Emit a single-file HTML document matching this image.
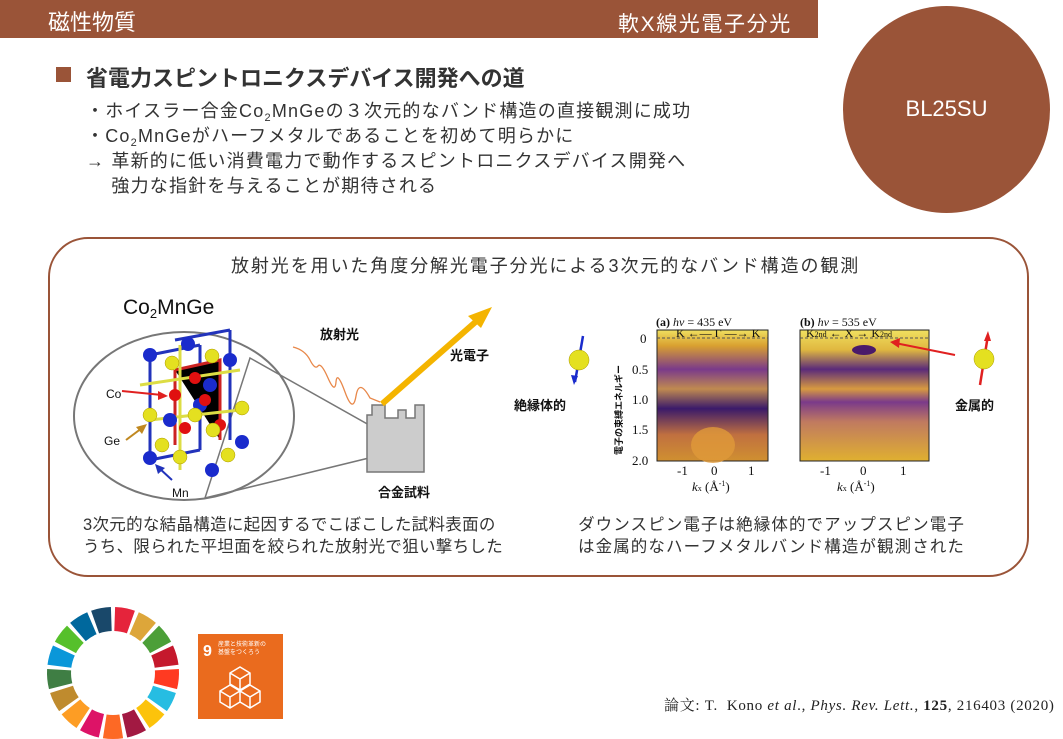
<!DOCTYPE html>
<html><head><meta charset="utf-8"><style>
body{margin:0;width:1063px;height:739px;background:#fff;position:relative;overflow:hidden;font-family:"Liberation Sans","Noto Sans CJK JP",sans-serif;color:#222}
.a{position:absolute;white-space:nowrap}
sub{font-size:11px;line-height:0;vertical-align:baseline;position:relative;top:4px}
</style></head><body>
<div class="a" style="left:0;top:0;width:818px;height:38px;background:#9a5438"></div>
<div class="a" style="left:48px;top:5px;font-size:22px;color:#fff">磁性物質</div>
<div class="a" style="left:618px;top:8px;font-size:21px;letter-spacing:1.6px;color:#fff">軟X線光電子分光</div>
<div class="a" style="left:843px;top:6px;width:207px;height:207px;border-radius:50%;background:#9a5438"></div>
<div class="a" style="left:843px;top:96px;width:207px;text-align:center;font-size:22px;color:#fff">BL25SU</div>
<div class="a" style="left:56px;top:67px;width:15px;height:15px;background:#9a5438"></div>
<div class="a" style="left:86px;top:61px;font-size:22px;font-weight:bold;color:#333">省電力スピントロニクスデバイス開発への道</div>
<div class="a" style="left:86px;top:99px;font-size:18px;letter-spacing:1.2px;line-height:25px;color:#333">・ホイスラー合金Co<sub>2</sub>MnGeの３次元的なバンド構造の直接観測に成功<br>・Co<sub>2</sub>MnGeがハーフメタルであることを初めて明らかに<br>→ 革新的に低い消費電力で動作するスピントロニクスデバイス開発へ<br>　 強力な指針を与えることが期待される</div>
<div class="a" style="left:48px;top:237px;width:977px;height:336px;border:2px solid #9a5438;border-radius:40px"></div>
<div class="a" style="left:231px;top:252px;font-size:18px;letter-spacing:1.9px;color:#333">放射光を用いた角度分解光電子分光による3次元的なバンド構造の観測</div>
<div class="a" style="left:123px;top:296px;font-size:21px;color:#111">Co<sub style="font-size:13px">2</sub>MnGe</div>
<svg class="a" style="left:0;top:0" width="1063" height="739">
<ellipse cx="184" cy="416" rx="110" ry="84" fill="none" stroke="#777" stroke-width="2"/>
<polygon points="250,358 410,448 205,498" fill="none" stroke="#777" stroke-width="1.5"/>
<polygon points="367,472 367,415 372,415 372,405 385,405 385,418 398,418 398,410 406,410 406,418 415,418 415,405 424,405 424,472" fill="#ccc" stroke="#777" stroke-width="1.5"/>
<line x1="382" y1="404" x2="480" y2="318" stroke="#f4b400" stroke-width="6"/>
<polygon points="492,307 468,316 481,328" fill="#f4b400"/>
<path d="M293,347 Q305,350 310,360 T318,366 T328,378 T336,382 T345,392 T356,396 T370,398 L380,402" fill="none" stroke="#e8884a" stroke-width="1.3"/>
<g stroke-width="3">
<path d="M150,355 L200,345 M150,460 L200,450 M150,355 L150,460 M200,345 L200,450 M175,340 L230,330 M230,330 L230,440" stroke="#2233bb"/>
<path d="M175,370 L220,360 L220,440 M175,370 L175,445" stroke="#cc2222"/>
<path d="M140,385 L240,370 M150,420 L240,410 M180,345 L180,470" stroke="#dddd44"/>
</g>
<g fill="#1a2bcc"><circle cx="150" cy="355" r="7"/><circle cx="188" cy="344" r="7"/><circle cx="230" cy="360" r="7"/><circle cx="150" cy="458" r="7"/><circle cx="212" cy="470" r="7"/><circle cx="242" cy="442" r="7"/><circle cx="200" cy="405" r="7"/><circle cx="170" cy="420" r="7"/><circle cx="210" cy="385" r="7"/></g>
<g fill="#e01010"><circle cx="175" cy="395" r="6"/><circle cx="205" cy="400" r="6"/><circle cx="185" cy="428" r="6"/><circle cx="220" cy="425" r="6"/><circle cx="195" cy="378" r="6"/></g>
<g fill="#e4e020" stroke="#aa9900" stroke-width=".5"><circle cx="172" cy="363" r="7"/><circle cx="212" cy="356" r="7"/><circle cx="150" cy="415" r="7"/><circle cx="242" cy="408" r="7"/><circle cx="180" cy="457" r="7"/><circle cx="228" cy="455" r="7"/><circle cx="213" cy="430" r="7"/><circle cx="195" cy="415" r="7"/><circle cx="162" cy="445" r="7"/></g>
<line x1="122" y1="391" x2="162" y2="395" stroke="#e02020" stroke-width="2"/><polygon points="168,396 158,391 158,400" fill="#e02020"/>
<line x1="126" y1="440" x2="142" y2="428" stroke="#c08820" stroke-width="2"/><polygon points="147,424 136,427 142,434" fill="#c08820"/>
<line x1="172" y1="480" x2="159" y2="468" stroke="#2233bb" stroke-width="2"/><polygon points="155,464 158,474 165,468" fill="#2233bb"/>
<text x="106" y="398" font-size="12" fill="#111">Co</text>
<text x="104" y="445" font-size="12" fill="#111">Ge</text>
<text x="172" y="497" font-size="12" fill="#111">Mn</text>
<text x="320" y="339" font-size="13" font-weight="bold" fill="#111">放射光</text>
<text x="450" y="360" font-size="13" font-weight="bold" fill="#111">光電子</text>
<text x="378" y="497" font-size="13" font-weight="bold" fill="#111">合金試料</text>
<defs>
<linearGradient id="ga" x1="0" y1="0" x2="0" y2="1"><stop offset="0" stop-color="#f0e060"/><stop offset=".12" stop-color="#d9a030"/><stop offset=".3" stop-color="#7a3a8a"/><stop offset=".45" stop-color="#c08a50"/><stop offset=".6" stop-color="#3a1a6a"/><stop offset=".8" stop-color="#c07040"/><stop offset="1" stop-color="#d09030"/></linearGradient>
<linearGradient id="gb" x1="0" y1="0" x2="0" y2="1"><stop offset="0" stop-color="#f0e060"/><stop offset=".15" stop-color="#e0b840"/><stop offset=".3" stop-color="#5a2a7a"/><stop offset=".45" stop-color="#d89a40"/><stop offset=".55" stop-color="#7a3a8a"/><stop offset=".7" stop-color="#c07a60"/><stop offset="1" stop-color="#e0b030"/></linearGradient>
</defs>
<rect x="657" y="330" width="111" height="131" fill="url(#ga)" stroke="#222"/>
<ellipse cx="713" cy="445" rx="22" ry="18" fill="#e09a3a" opacity=".8"/>
<rect x="800" y="330" width="129" height="131" fill="url(#gb)" stroke="#222"/>
<ellipse cx="864" cy="350" rx="12" ry="5" fill="#4a1a6a"/>
<line x1="657" y1="338" x2="768" y2="338" stroke="#555" stroke-dasharray="3,2"/>
<line x1="800" y1="338" x2="929" y2="338" stroke="#555" stroke-dasharray="3,2"/>
<g font-family="Liberation Serif,serif" font-size="13" fill="#111">
<text x="656" y="326" font-size="12"><tspan font-weight="bold">(a)</tspan> <tspan font-style="italic">hv</tspan> = 435 eV</text>
<text x="800" y="326" font-size="12"><tspan font-weight="bold">(b)</tspan> <tspan font-style="italic">hv</tspan> = 535 eV</text>
<text x="676" y="337" font-size="12">K ←— Γ —→ K</text>
<text x="806" y="337" font-size="12">K<tspan font-size="8">2nd</tspan> ← X → K<tspan font-size="8">2nd</tspan></text>
<text x="640" y="343">0</text><text x="632" y="374">0.5</text><text x="632" y="404">1.0</text><text x="632" y="434">1.5</text><text x="632" y="465">2.0</text>
<text x="677" y="475">-1</text><text x="711" y="475">0</text><text x="748" y="475">1</text>
<text x="820" y="475">-1</text><text x="860" y="475">0</text><text x="900" y="475">1</text>
<text x="692" y="491"><tspan font-style="italic">k</tspan><tspan font-size="8">x</tspan> (Å<tspan font-size="8" dy="-5">-1</tspan><tspan dy="5">)</tspan></text>
<text x="837" y="491"><tspan font-style="italic">k</tspan><tspan font-size="8">x</tspan> (Å<tspan font-size="8" dy="-5">-1</tspan><tspan dy="5">)</tspan></text>
</g>
<text x="0" y="0" font-size="9" font-weight="bold" fill="#111" transform="translate(622,455) rotate(-90)">電子の束縛エネルギー</text>
<line x1="955" y1="355" x2="895" y2="343" stroke="#e02020" stroke-width="2"/><polygon points="890,342 900,338 899,348" fill="#e02020"/>
<line x1="583" y1="336" x2="575" y2="382" stroke="#1a2bcc" stroke-width="2.5"/><polygon points="574,385 571,375 578,376" fill="#1a2bcc"/>
<circle cx="579" cy="360" r="10" fill="#e4e020" stroke="#aa9900" stroke-width=".5"/>
<line x1="980" y1="385" x2="988" y2="335" stroke="#e02020" stroke-width="2.5"/><polygon points="988,331 984,341 991,341" fill="#e02020"/>
<circle cx="984" cy="359" r="10" fill="#e4e020" stroke="#aa9900" stroke-width=".5"/>
<text x="514" y="410" font-size="13" font-weight="bold" fill="#111">絶縁体的</text>
<text x="955" y="410" font-size="13" font-weight="bold" fill="#111">金属的</text>
<g transform="translate(113,673)" id="wheel"></g>
<rect x="198" y="634" width="85" height="85" fill="#ea6b1e"/>
<text x="203" y="656" font-size="16" font-weight="bold" fill="#fff">9</text>
<text x="218" y="646" font-size="6" fill="#fff">産業と技術革新の</text>
<text x="218" y="654" font-size="6" fill="#fff">基盤をつくろう</text>
<g fill="none" stroke="#fff" stroke-width="1.5"><path d="M230,673 l10,-6 l10,6 v11 l-10,6 l-10,-6z M240,679 v11 M230,673 l10,6 l10,-6 M220,691 l10,-6 l10,6 v11 l-10,6 l-10,-6z M240,691 l10,-6 l10,6 v11 l-10,6 l-10,-6 M230,697 v11 M250,697 v11 M220,691 l10,6 l10,-6 l10,6 l10,-6"/></g>
</svg>
<div class="a" style="left:83px;top:514px;font-size:16.5px;letter-spacing:0.3px;line-height:22px;color:#333">3次元的な結晶構造に起因するでこぼこした試料表面の<br>うち、限られた平坦面を絞られた放射光で狙い撃ちした</div>
<div class="a" style="left:578px;top:514px;font-size:16.5px;letter-spacing:1.1px;line-height:22px;color:#333;text-align:center">ダウンスピン電子は絶縁体的でアップスピン電子<br>は金属的なハーフメタルバンド構造が観測された</div>
<div class="a" style="left:664px;top:694px;font-size:15px;letter-spacing:0.7px;color:#222;font-family:'Liberation Serif','Noto Serif CJK SC',serif">論文: T.&nbsp; Kono <i>et al</i>., <i>Phys. Rev. Lett.</i>, <b>125</b>, 216403 (2020)</div>
<script>
var c=["#E5243B","#DDA63A","#4C9F38","#C5192D","#FF3A21","#26BDE2","#FCC30B","#A21942","#FD6925","#DD1367","#FD9D24","#BF8B2E","#3F7E44","#0A97D9","#56C02B","#00689D","#19486A"];
var g=document.getElementById("wheel"),s="";
function p(rr,a){return (rr*Math.sin(a)).toFixed(1)+","+(-rr*Math.cos(a)).toFixed(1)}
for(var i=0;i<17;i++){var a0=(i*360/17+1.8)*Math.PI/180,a1=((i+1)*360/17-1.8)*Math.PI/180,R=66,r=42;
s+='<path d="M'+p(r,a0)+' L'+p(R,a0)+' A'+R+','+R+' 0 0 1 '+p(R,a1)+' L'+p(r,a1)+' A'+r+','+r+' 0 0 0 '+p(r,a0)+'Z" fill="'+c[i]+'"/>';}
g.innerHTML=s;
</script>
</body></html>
